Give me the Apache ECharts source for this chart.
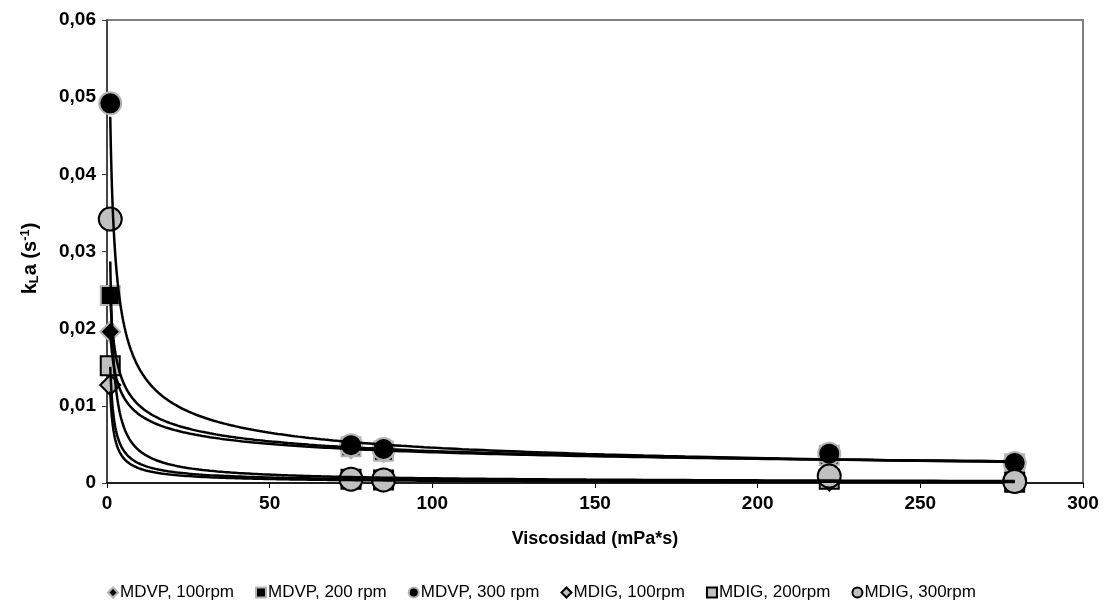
<!DOCTYPE html>
<html>
<head>
<meta charset="utf-8">
<script src="https://cdn.jsdelivr.net/npm/echarts@6/dist/echarts.min.js"></script>
<style>
  html, body { margin: 0; padding: 0; background: #fff; }
  #chartmain { width: 1105px; height: 600px; }
</style>
</head>
<body>
<div id="chartmain"></div>
<script>
// viscosidad (mPa*s)
var visc = [1, 75, 85, 222, 279];

// kLa (s-1)
var mdvp100 = [0.0196, 0.0045, 0.0040, 0.0035, 0.0025];
var mdvp200 = [0.0243, 0.0047, 0.0041, 0.0036, 0.0025];
var mdvp300 = [0.0492, 0.0049, 0.0044, 0.0038, 0.0026];
var mdig100 = [0.0127, 0.0004, 0.0002, 0.0003, 0.0001];
var mdig200 = [0.0152, 0.0005, 0.0004, 0.0005, 0.0001];
var mdig300 = [0.0342, 0.0005, 0.0004, 0.0009, 0.0002];

var names = ['MDVP, 100rpm', 'MDVP, 200 rpm', 'MDVP, 300 rpm',
             'MDIG, 100rpm', 'MDIG, 200rpm', 'MDIG, 300rpm'];
var yTicks = [0, 0.01, 0.02, 0.03, 0.04, 0.05, 0.06];

var FONT = 'Liberation Sans, Arial, Helvetica, sans-serif';

// power trendline (like excel), least squares in log-log space
function powerFit(xs, ys) {
  var n = xs.length, sx = 0, sy = 0, sxx = 0, sxy = 0;
  for (var i = 0; i < n; i++) {
    var lx = Math.log(xs[i]), ly = Math.log(ys[i]);
    sx += lx; sy += ly; sxx += lx * lx; sxy += lx * ly;
  }
  var b = (n * sxy - sx * sy) / (n * sxx - sx * sx);
  var a = Math.exp((sy - b * sx) / n);
  var pts = [];
  var x0 = Math.min.apply(null, xs), x1 = Math.max.apply(null, xs);
  for (var k = 0; k <= 300; k++) {
    var x = x0 * Math.pow(x1 / x0, k / 300);
    pts.push([x, a * Math.pow(x, b)]);
  }
  return pts;
}

function pairs(ys) {
  return visc.map(function (x, i) { return [x, ys[i]]; });
}

var sets = [mdvp100, mdvp200, mdvp300, mdig100, mdig200, mdig300];
var symbols = ['diamond', 'rect', 'circle', 'diamond', 'rect', 'circle'];
var sizes = [20, 19, 22, 20, 19, 23];

var series = [];
sets.forEach(function (ys, i) {
  var isVp = i < 3;
  series.push({
    name: names[i],
    type: 'scatter',
    symbol: symbols[i],
    symbolSize: sizes[i],
    z: 2 + i,
    itemStyle: {
      color: isVp ? '#000000' : '#c0c0c0',
      borderColor: isVp ? '#b4b4b4' : '#000000',
      borderWidth: 2,
      opacity: 1
    },
    data: pairs(ys)
  });
});
// trendlines on top of the markers
sets.forEach(function (ys) {
  series.push({
    type: 'line',
    showSymbol: false,
    silent: true,
    z: 10,
    lineStyle: { color: '#000', width: 2.5 },
    data: powerFit(visc, ys)
  });
});

var option = {
  animation: false,
  backgroundColor: '#fff',
  textStyle: { fontFamily: FONT },
  grid: {
    left: 107, right: 22, top: 20, bottom: 117,
    show: true, borderColor: '#808080', borderWidth: 2
  },
  legend: {
    data: names,
    top: 579,
    left: 102,
    itemWidth: 10,
    itemHeight: 10,
    itemGap: 21,
    textStyle: { fontSize: 17, color: '#000', fontFamily: FONT, padding: [0, 0, 0, -3] }
  },
  xAxis: {
    type: 'value',
    min: 0, max: 300, interval: 50,
    splitLine: { show: false },
    axisLine: { show: true, onZero: false, lineStyle: { color: '#000', width: 1.5 } },
    axisTick: { show: true, length: 5, lineStyle: { color: '#000' } },
    axisLabel: { color: '#000', fontWeight: 'bold', fontSize: 19, margin: 11, fontFamily: FONT },
    name: 'Viscosidad (mPa*s)',
    nameLocation: 'middle',
    nameGap: 47,
    nameTextStyle: { color: '#000', fontWeight: 'bold', fontSize: 18, fontFamily: FONT }
  },
  yAxis: {
    type: 'value',
    min: 0, max: 0.06, interval: 0.01,
    splitLine: { show: false },
    axisLine: { show: true, lineStyle: { color: '#333', width: 1.5 } },
    axisTick: { show: true, length: 5, lineStyle: { color: '#333' } },
    axisLabel: {
      color: '#000', fontWeight: 'bold', fontSize: 19, margin: 11, fontFamily: FONT,
      formatter: function (v) {
        var t = yTicks.reduce(function (p, c) { return Math.abs(c - v) < Math.abs(p - v) ? c : p; });
        return t === 0 ? '0' : t.toFixed(2).replace('.', ',');
      }
    },
    name: '{b|k}{sub|L}{b|a (s}{sup|-1}{b|)}',
    nameLocation: 'middle',
    nameRotate: 90,
    nameGap: 66,
    nameTextStyle: {
      lineHeight: 22,
      padding: [0, 14, 0, 0],
      rich: {
        b: { fontSize: 20, fontWeight: 'bold', color: '#000', fontFamily: FONT, lineHeight: 22 },
        sub: { fontSize: 13, fontWeight: 'bold', color: '#000', fontFamily: FONT, verticalAlign: 'bottom' },
        sup: { fontSize: 13, fontWeight: 'bold', color: '#000', fontFamily: FONT, verticalAlign: 'top' }
      }
    }
  },
  series: series
};

var myChart = echarts.init(document.getElementById('chartmain'));
myChart.setOption(option);
</script>
</body>
</html>
